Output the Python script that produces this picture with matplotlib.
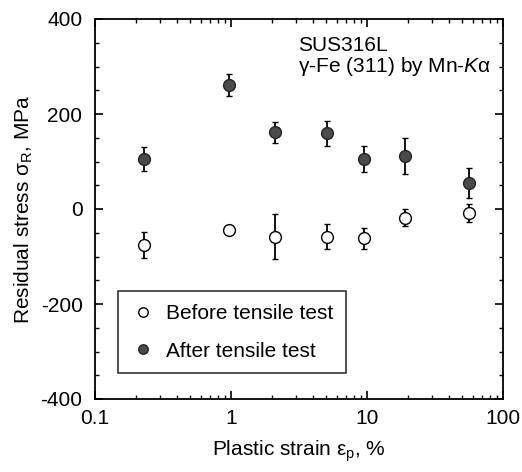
import numpy as np
import matplotlib
matplotlib.use("Agg")
import matplotlib.pyplot as plt
from matplotlib.ticker import MultipleLocator, LogLocator, NullFormatter

plt.rcParams['font.family'] = ['Liberation Sans', 'DejaVu Sans']
plt.rcParams['mathtext.fontset'] = 'custom'
plt.rcParams['mathtext.rm'] = 'Liberation Sans'
plt.rcParams['mathtext.it'] = 'Liberation Sans:italic'
plt.rcParams['axes.unicode_minus'] = False

# data
strain = [0.23, 0.97, 2.1, 5.1, 9.5, 19.0, 56.0]
before = [-76, -44, -58, -58, -62, -18, -9]
before_err = [28, 0, 47, 27, 22, 18, 19]
after = [105, 261, 162, 159, 105, 112, 55]
after_err = [25, 24, 22, 27, 28, 38, 31]

fig = plt.figure(figsize=(5.22, 4.72), dpi=100)
ax = fig.add_axes([95/522, 1 - 399/472, 408/522, 380/472])

# before: open circles
ax.errorbar(strain, before, yerr=before_err, fmt='o', ms=8.5, mfc='white', mec='black',
            mew=1.0, ecolor='black', elinewidth=1.3, capsize=2.5, capthick=1.3,
            label='Before tensile test', zorder=3)
# after: filled circles
ax.errorbar(strain, after, yerr=after_err, fmt='o', ms=8.5, mfc='#4a4a4a', mec='#222222',
            mew=1.0, ecolor='black', elinewidth=1.3, capsize=2.5, capthick=1.3,
            label='After tensile test', zorder=3)

ax.set_xscale('log')
ax.set_xlim(0.1, 100)
ax.set_ylim(-400, 400)
ax.set_xticks([0.1, 1, 10, 100])
ax.set_xticklabels(['0.1', '1', '10', '100'])
ax.xaxis.set_minor_locator(LogLocator(base=10, subs=np.arange(2, 10)))
ax.xaxis.set_minor_formatter(NullFormatter())
ax.yaxis.set_major_locator(MultipleLocator(200))
ax.yaxis.set_minor_locator(MultipleLocator(50))

ax.tick_params(which='both', direction='in', top=True, right=True, labelsize=15)
ax.tick_params(axis='x', pad=7)
ax.tick_params(axis='y', pad=9)
ax.tick_params(which='major', length=6, width=1.2)
ax.tick_params(which='minor', length=3, width=1.0)
for s in ax.spines.values():
    s.set_linewidth(1.3)

ax.set_xlabel(r'Plastic strain ε$_\mathrm{p}$, %', fontsize=15, labelpad=8)
ax.set_ylabel(r'Residual stress σ$_\mathrm{R}$, MPa', fontsize=15, labelpad=4)

ax.text(0.497, 0.955, 'SUS316L', transform=ax.transAxes, fontsize=15, va='top', ha='left')
ax.text(0.497, 0.905, r'γ-Fe (311) by Mn-$\mathit{K}$α', transform=ax.transAxes,
        fontsize=15, va='top', ha='left')

handles, labels = ax.get_legend_handles_labels()
handles = [h[0] for h in handles]
leg = ax.legend(handles, labels, loc='lower left', bbox_to_anchor=(0.056, 0.068),
                fontsize=15, frameon=True, fancybox=False, edgecolor='black',
                handletextpad=0.5, labelspacing=0.9, borderpad=0.6, handlelength=1.2,
                borderaxespad=0, markerscale=0.8)
leg.get_frame().set_linewidth(1.2)

fig.savefig('out.png', dpi=100)
